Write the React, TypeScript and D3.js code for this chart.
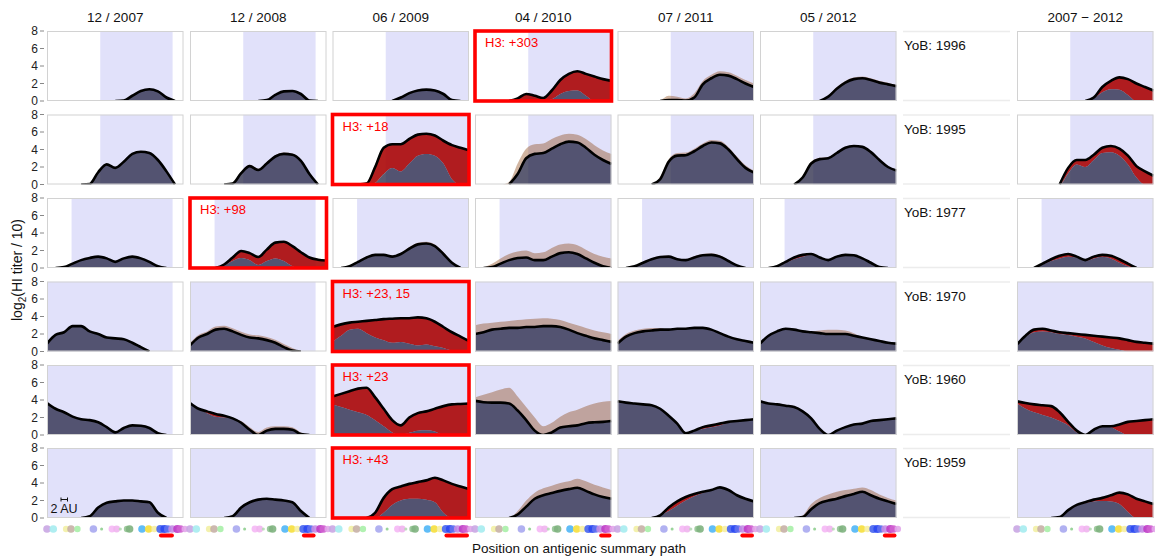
import * as d3 from "d3";

// column headers and row labels
const dateLabels = ["12 / 2007", "12 / 2008", "06 / 2009", "04 / 2010", "07 / 2011", "05 / 2012", "", "2007 − 2012"];
const birthYears = [1996, 1995, 1977, 1970, 1960, 1959];
const yTicks = [0, 2, 4, 6, 8];

// sample positions along the antigenic summary path (fraction of path)
const samplePos = [0, 0.0625, 0.125, 0.1875, 0.25, 0.3125, 0.375, 0.4375, 0.5, 0.5625, 0.625, 0.6875, 0.75, 0.8125, 0.875, 0.9375, 1];

// black line = titer, dark fill up to "pre" (null -> same as titer), brown band up to "upper"
const titer1996 = [
  [0, 0, 0, 0, 0, 0, 0, 0, 0, 0.05, 0.6, 1.15, 1.35, 1.1, 0.4, 0, 0],
  [0, 0, 0, 0, 0, 0, 0, 0, 0, 0.1, 0.7, 1.1, 1.15, 0.8, 0.05, 0, 0],
  [0, 0, 0, 0, 0, 0, 0, 0, 0.4, 0.9, 1.2, 1.3, 1.2, 0.8, 0.1, 0, 0],
  [0, 0, 0, 0, 0, 0.3, 0.8, 0.6, 0.35, 1.2, 2.4, 3.1, 3.4, 3.1, 2.8, 2.5, 2.3],
  [0, 0, 0, 0, 0, 0, 0.1, 0.1, 0.05, 0.4, 1.9, 2.6, 3.0, 2.9, 2.5, 2.0, 1.6],
  [0, 0, 0, 0, 0, 0, 0, 0, 0.5, 1.4, 2.1, 2.5, 2.6, 2.4, 2.1, 1.9, 1.7],
  [0, 0, 0, 0, 0, 0, 0, 0, 0, 0.4, 1.6, 2.3, 2.7, 2.5, 2.0, 1.6, 1.2],
];
const pre1996 = [
  null, null, null,
  [0, 0, 0, 0, 0, 0, 0, 0, 0, 0.2, 0.8, 1.15, 1.2, 0.6, 0, 0, 0],
  null, null,
  [0, 0, 0, 0, 0, 0, 0, 0, 0, 0.3, 1.0, 1.35, 1.3, 0.7, 0, 0, 0],
];
const upper1996 = [
  null, null, null, null,
  [0, 0, 0, 0, 0, 0.1, 0.6, 0.5, 0.3, 0.9, 2.3, 3.0, 3.4, 3.3, 2.9, 2.4, 2.0],
  [0, 0, 0, 0, 0, 0, 0, 0, 0.6, 1.6, 2.3, 2.7, 2.8, 2.6, 2.3, 2.1, 1.8],
  null,
];

const titer1995 = [
  [0, 0, 0, 0, 0, 0.05, 1.4, 2.3, 1.9, 2.6, 3.5, 3.75, 3.6, 2.8, 1.5, 0, 0],
  [0, 0, 0, 0, 0, 0.1, 1.3, 2.1, 1.65, 2.4, 3.2, 3.5, 3.4, 2.7, 1.2, 0, 0],
  [0, 0, 0, 0, 0.1, 2.0, 4.2, 4.6, 4.6, 5.2, 5.7, 5.8, 5.6, 5.0, 4.5, 4.2, 3.9],
  [0, 0, 0, 0, 0, 1.2, 3.0, 3.5, 3.6, 4.1, 4.6, 4.9, 4.8, 4.2, 3.4, 2.8, 2.35],
  [0, 0, 0, 0, 0, 0.6, 2.6, 3.3, 3.35, 3.8, 4.4, 4.8, 4.7, 4.0, 2.9, 1.9, 1.35],
  [0, 0, 0, 0, 0, 0.8, 2.4, 2.9, 3.0, 3.6, 4.2, 4.4, 4.3, 3.7, 2.8, 2.0, 1.6],
  [0, 0, 0, 0, 0, 0, 1.9, 2.8, 2.8, 3.4, 4.2, 4.4, 4.1, 3.3, 2.1, 1.5, 1.0],
];
const pre1995 = [
  null, null,
  [0, 0, 0, 0, 0, 0.2, 1.2, 1.9, 1.5, 2.4, 3.3, 3.5, 3.3, 2.4, 0.6, 0, 0],
  null, null, null,
  [0, 0, 0, 0, 0, 0, 1.3, 2.3, 2.0, 2.8, 3.6, 3.7, 3.3, 2.3, 0.8, 0, 0],
];
const upper1995 = [
  null,
  [0, 0, 0, 0, 0, 0.2, 1.45, 2.25, 1.8, 2.55, 3.35, 3.65, 3.55, 2.85, 1.3, 0, 0],
  [0, 0, 0, 0, 0.3, 2.3, 4.3, 4.6, 4.6, 5.2, 5.7, 5.8, 5.6, 5.0, 4.5, 4.2, 3.9],
  [0, 0, 0, 0, 0.3, 2.4, 4.1, 4.6, 4.7, 5.2, 5.6, 5.8, 5.7, 5.2, 4.5, 3.9, 3.5],
  [0, 0, 0, 0, 0, 0.9, 2.9, 3.6, 3.65, 4.1, 4.7, 5.1, 5.0, 4.3, 3.2, 2.2, 1.6],
  [0, 0, 0, 0, 0, 1.0, 2.6, 3.05, 3.15, 3.7, 4.3, 4.5, 4.4, 3.8, 2.9, 2.1, 1.7],
  null,
];

const titer1977 = [
  [0, 0, 0.1, 0.5, 0.9, 1.15, 1.3, 1.1, 0.7, 1.1, 1.3, 1.1, 0.7, 0.2, 0, 0, 0],
  [0, 0, 0, 0, 0.4, 1.2, 1.95, 1.7, 1.25, 2.1, 2.9, 3.0, 2.5, 1.8, 1.2, 0.95, 0.85],
  [0, 0, 0.2, 0.7, 1.2, 1.5, 1.5, 1.3, 1.6, 2.2, 2.7, 2.8, 2.5, 1.6, 0.6, 0, 0],
  [0, 0, 0.1, 0.5, 0.9, 1.15, 1.2, 0.9, 0.9, 1.3, 1.7, 1.8, 1.6, 1.1, 0.6, 0.2, 0],
  [0, 0, 0.2, 0.6, 1.0, 1.25, 1.3, 1.0, 0.9, 1.2, 1.45, 1.5, 1.3, 0.8, 0.3, 0, 0],
  [0, 0, 0.2, 0.7, 1.2, 1.5, 1.6, 1.2, 0.9, 1.3, 1.5, 1.45, 1.1, 0.6, 0.1, 0, 0],
  [0, 0, 0, 0.5, 1.0, 1.4, 1.6, 1.3, 0.9, 1.3, 1.5, 1.4, 1.0, 0.5, 0, 0, 0],
];
const pre1977 = [
  null,
  [0, 0, 0, 0, 0.3, 0.8, 1.15, 0.9, 0.35, 0.8, 1.1, 0.8, 0.2, 0, 0, 0, 0],
  null, null, null,
  [0, 0, 0.2, 0.6, 1.0, 1.3, 1.5, 1.2, 0.9, 1.3, 1.5, 1.45, 1.1, 0.6, 0.1, 0, 0],
  [0, 0, 0, 0.4, 0.8, 1.1, 1.3, 1.2, 0.8, 1.1, 1.3, 1.1, 0.6, 0.2, 0, 0, 0],
];
const upper1977 = [
  null, null,
  [0, 0, 0.2, 0.7, 1.2, 1.5, 1.6, 1.4, 1.7, 2.4, 2.9, 3.0, 2.7, 1.8, 0.7, 0, 0],
  [0, 0.1, 0.5, 1.1, 1.6, 1.9, 2.0, 1.7, 1.8, 2.3, 2.7, 2.8, 2.6, 2.1, 1.6, 1.3, 1.1],
  [0, 0, 0.2, 0.7, 1.1, 1.35, 1.4, 1.1, 1.0, 1.35, 1.6, 1.65, 1.45, 0.9, 0.35, 0, 0],
  null, null,
];

const titer1970 = [
  [0.9, 1.9, 2.2, 2.9, 2.9, 2.3, 2.0, 1.6, 1.5, 1.4, 1.0, 0.5, 0, 0, 0, 0, 0],
  [0.7, 1.6, 2.0, 2.5, 2.6, 2.3, 1.9, 1.6, 1.5, 1.3, 1.0, 0.5, 0.1, 0, 0, 0, 0],
  [2.8, 3.1, 3.3, 3.4, 3.5, 3.6, 3.7, 3.75, 3.8, 3.8, 3.9, 3.8, 3.4, 2.8, 2.2, 1.7, 1.2],
  [2.0, 2.2, 2.5, 2.6, 2.7, 2.7, 2.8, 2.8, 2.9, 2.9, 2.8, 2.5, 2.1, 1.8, 1.5, 1.3, 1.1],
  [0.9, 1.7, 2.1, 2.3, 2.4, 2.5, 2.5, 2.6, 2.6, 2.7, 2.7, 2.5, 2.1, 1.7, 1.4, 1.2, 1.0],
  [0.9, 1.8, 2.3, 2.6, 2.5, 2.3, 2.2, 2.1, 2.0, 2.0, 2.0, 1.8, 1.6, 1.4, 1.2, 1.0, 0.9],
  [0.8, 1.8, 2.5, 2.6, 2.4, 2.2, 2.1, 2.0, 1.9, 1.8, 1.7, 1.6, 1.5, 1.3, 1.1, 1.0, 0.9],
];
const pre1970 = [
  null, null,
  [1.1, 1.8, 2.5, 2.6, 2.1, 1.6, 1.3, 1.0, 1.1, 0.9, 0.7, 0.8, 0.6, 0.4, 0.1, 0, 0],
  null, null, null,
  [0.8, 1.7, 2.2, 2.3, 2.2, 2.0, 1.9, 1.7, 1.5, 1.1, 0.7, 0.4, 0.2, 0, 0, 0, 0],
];
const upper1970 = [
  null,
  [1.0, 1.9, 2.3, 2.85, 2.95, 2.65, 2.25, 1.95, 1.85, 1.65, 1.35, 0.85, 0.4, 0, 0, 0, 0],
  null,
  [3.0, 3.2, 3.3, 3.4, 3.5, 3.6, 3.7, 3.75, 3.8, 3.75, 3.6, 3.3, 3.0, 2.7, 2.4, 2.2, 2.0],
  [1.2, 2.0, 2.4, 2.6, 2.7, 2.7, 2.5, 2.6, 2.6, 2.7, 2.7, 2.5, 2.1, 1.7, 1.4, 1.2, 1.0],
  [0.9, 1.8, 2.3, 2.6, 2.5, 2.3, 2.3, 2.4, 2.5, 2.5, 2.4, 2.1, 1.6, 1.4, 1.2, 1.0, 0.9],
  null,
];

const titer1960 = [
  [3.65, 3.0, 2.6, 2.1, 1.8, 1.7, 1.45, 0.9, 0.3, 0.8, 1.1, 1.05, 0.8, 0.2, 0, 0, 0],
  [3.65, 3.0, 2.7, 2.4, 2.2, 1.9, 1.4, 0.6, 0, 0.5, 0.7, 0.7, 0.6, 0.1, 0, 0, 0],
  [4.4, 4.7, 5.0, 5.3, 5.4, 4.3, 3.0, 1.7, 1.1, 2.0, 2.5, 2.7, 3.0, 3.3, 3.5, 3.55, 3.6],
  [3.9, 3.75, 3.7, 3.7, 3.6, 2.8, 1.7, 0.5, 0, 0.3, 0.85, 1.0, 1.1, 1.35, 1.45, 1.5, 1.6],
  [3.85, 3.7, 3.6, 3.5, 3.4, 3.0, 2.2, 1.3, 0.2, 0.5, 0.9, 1.1, 1.3, 1.5, 1.6, 1.7, 1.8],
  [3.85, 3.6, 3.5, 3.35, 3.2, 2.7, 1.9, 0.7, 0, 0.5, 0.9, 1.2, 1.3, 1.6, 1.7, 1.8, 1.9],
  [3.85, 3.65, 3.5, 3.4, 3.3, 2.6, 1.5, 0.5, 0, 0.6, 1.0, 1.0, 1.2, 1.5, 1.6, 1.7, 1.8],
];
const pre1960 = [
  null,
  [3.65, 3.0, 2.5, 2.1, 2.0, 1.9, 1.4, 0.6, 0, 0.5, 0.7, 0.7, 0.6, 0.1, 0, 0, 0],
  [3.5, 3.2, 2.9, 2.6, 2.3, 1.7, 1.0, 0.3, 0, 0.25, 0.5, 0.55, 0.4, 0, 0, 0, 0],
  null,
  [3.85, 3.7, 3.6, 3.5, 3.4, 3.0, 2.2, 1.3, 0.2, 0.5, 0.7, 0.9, 1.1, 1.4, 1.6, 1.7, 1.8],
  null,
  [3.6, 3.0, 2.6, 2.3, 2.0, 1.6, 1.1, 0.3, 0, 0.6, 1.0, 0.9, 0.4, 0, 0, 0, 0],
];
const upper1960 = [
  null,
  [3.65, 3.0, 2.7, 2.4, 2.2, 1.9, 1.6, 0.9, 0.35, 0.85, 1.0, 1.0, 0.9, 0.3, 0, 0, 0],
  null,
  [4.3, 4.6, 4.9, 5.2, 5.4, 4.4, 3.2, 2.0, 1.0, 1.4, 2.1, 2.6, 2.9, 3.3, 3.6, 3.8, 3.9],
  null,
  [3.85, 3.6, 3.5, 3.45, 3.3, 2.8, 1.9, 0.7, 0, 0.5, 0.9, 1.2, 1.3, 1.6, 1.7, 1.8, 1.9],
  null,
];

const titer1959 = [
  [0, 0, 0, 0, 0, 0.2, 1.2, 1.75, 1.9, 2.0, 2.0, 1.9, 1.8, 0.6, 0, 0, 0],
  [0, 0, 0, 0, 0, 0.2, 1.2, 1.8, 2.1, 2.2, 2.1, 2.0, 1.8, 0.8, 0, 0, 0],
  [0, 0, 0, 0, 0, 0.6, 2.3, 3.3, 3.6, 3.9, 4.1, 4.3, 4.6, 4.3, 3.9, 3.6, 3.3],
  [0, 0, 0, 0, 0, 0.4, 1.3, 2.2, 2.6, 2.85, 3.1, 3.3, 3.45, 3.1, 2.7, 2.4, 2.2],
  [0, 0, 0, 0, 0, 0.3, 1.2, 1.9, 2.4, 2.75, 3.0, 3.2, 3.5, 3.2, 2.6, 2.2, 1.9],
  [0, 0, 0, 0, 0, 0.1, 1.0, 1.7, 2.0, 2.2, 2.5, 2.75, 3.0, 2.6, 2.2, 1.9, 1.6],
  [0, 0, 0, 0, 0, 0.1, 0.9, 1.5, 1.8, 2.1, 2.3, 2.6, 2.9, 2.7, 2.2, 1.9, 1.6],
];
const pre1959 = [
  null, null,
  [0, 0, 0, 0, 0, 0, 0.6, 1.5, 2.0, 2.2, 2.2, 2.1, 1.8, 0.6, 0, 0, 0],
  null,
  [0, 0, 0, 0, 0, 0.3, 0.8, 1.4, 2.0, 2.5, 2.85, 3.2, 3.5, 3.2, 2.6, 2.2, 1.9],
  null,
  [0, 0, 0, 0, 0, 0.1, 0.8, 1.4, 1.7, 1.9, 1.95, 1.9, 1.6, 0.7, 0, 0, 0],
];
const upper1959 = [
  null, null, null,
  [0, 0, 0, 0, 0, 0.8, 2.0, 2.9, 3.4, 3.7, 4.0, 4.2, 4.5, 4.2, 3.8, 3.5, 3.2],
  null,
  [0, 0, 0, 0, 0, 0.3, 1.6, 2.3, 2.7, 3.0, 3.2, 3.35, 3.5, 3.2, 2.7, 2.3, 2.0],
  null,
];

// exposure window (lavender) along the path
const bandStart = [0.39, 0.39, 0.18, 0, 0, 0];
const bandEnd = [0.92, 0.92, 1, 1, 1, 1, 1];

// vaccine strain position under each column
const vaccineSpan = [[0.82, 0.93], [0.82, 0.92], [0.82, 1.0], [0.91, 1.0], [0.9, 1.0], [0.9, 1.0], null];

// highlighted panels (row -> data column) with their labels
const boxCol = [3, 2, 1, 2, 2, 2];
const boxText = ["H3: +303", "H3: +18", "H3: +98", "H3: +23, 15", "H3: +23", "H3: +43"];

// antigenic summary path clusters
const pathDotPos = [0, 0.046, 0.14, 0.176, 0.223, 0.34, 0.4, 0.476, 0.51, 0.537, 0.586, 0.605, 0.696, 0.745, 0.787, 0.83, 0.86, 0.885, 0.917, 0.954, 0.978, 1.01];
const pathDotColors = ["#c9a6e3", "#a6ecf0", "#f2efa4", "#c6b0a6", "#a8f0a8", "#a8a8ef", "#8fcf8f", "#f5b8f5", "#f0b4ee", "#b4dcb4", "#94c494", "#7fb27f", "#4fb6f6", "#f6df3c", "#f6eea0", "#4664f0", "#2b48f2", "#6070ee", "#c48ce6", "#bf3cc6", "#cf5fd0", "#e2a6ea"];
const pathDotSizes = [3.8, 3.8, 3.2, 3.8, 3.2, 3.8, 1.5, 3.4, 3.4, 1.6, 3.2, 3.8, 3.8, 3.8, 3.2, 4, 4, 3.8, 3.8, 4, 3.8, 3.2];

const rows = [
  { line: titer1996, pre: pre1996, hi: upper1996 },
  { line: titer1995, pre: pre1995, hi: upper1995 },
  { line: titer1977, pre: pre1977, hi: upper1977 },
  { line: titer1970, pre: pre1970, hi: upper1970 },
  { line: titer1960, pre: pre1960, hi: upper1960 },
  { line: titer1959, pre: pre1959, hi: upper1959 },
];

const W = 1155;
const H = 557;
const colLeft = [47, 190, 332.5, 475, 617.5, 760, 903, 1017];
const panelW = 136.5;
const panelH = 70;
const rowTop = [31, 114.5, 198, 281.5, 365, 448];
const font = "'Liberation Sans', Arial, sans-serif";

const LAV = "#e1e1fa";
const DARK = "#1c1c3c";
const RED = "#a80000";
const BROWN = "#8b4513";

function Panel({ r, c }: { r: number; c: number }) {
  const sc = c < 6 ? c : 7;
  const x0 = colLeft[sc];
  const y0 = rowTop[r];
  const x = d3.scaleLinear().domain([0, 1]).range([x0, x0 + panelW]);
  const y = d3.scaleLinear().domain([0, 8]).range([y0 + panelH, y0]);
  const line = rows[r].line[c];
  const pre = rows[r].pre[c] || line;
  const hi = rows[r].hi[c] || line;
  const idx = d3.range(samplePos.length);
  const px = (i: number) => x(samplePos[i]);

  const between = (lo: (i: number) => number, up: (i: number) => number) =>
    d3.area<number>().x(px).y0((i) => y(lo(i))).y1((i) => y(up(i))).curve(d3.curveMonotoneX)(idx) || "";

  const brown = between((i) => line[i], (i) => Math.max(hi[i], line[i]));
  const red = between((i) => pre[i], (i) => line[i]);
  const dark = between(() => 0, (i) => pre[i]);
  const black =
    d3
      .line<number>()
      .defined((i) => line[i] > 0 || (line[i - 1] ?? 0) > 0 || (line[i + 1] ?? 0) > 0)
      .x(px)
      .y((i) => y(line[i]))
      .curve(d3.curveMonotoneX)(idx) || "";

  const boxed = boxCol[r] === c;
  const clipId = `clip-${r}-${c}`;
  return (
    <g>
      <clipPath id={clipId}>
        <rect x={x0} y={y0} width={panelW} height={panelH} />
      </clipPath>
      <rect x={x0} y={y0} width={panelW} height={panelH} fill="#fff" />
      <g clipPath={`url(#${clipId})`}>
        <rect
          x={x(bandStart[r])}
          y={y0}
          width={x(bandEnd[c]) - x(bandStart[r])}
          height={panelH}
          fill={LAV}
        />
        <path d={brown} fill={BROWN} fillOpacity={0.4} />
        <path d={red} fill={RED} fillOpacity={0.88} />
        <path d={dark} fill={DARK} fillOpacity={0.72} />
        <path d={black} fill="none" stroke="#000" strokeWidth={2.6} strokeLinejoin="round" />
      </g>
      {boxed ? (
        <g>
          <rect x={x0} y={y0} width={panelW} height={panelH} fill="none" stroke="#ff0000" strokeWidth={3.6} />
          <text x={x0 + 10} y={y0 + 16} fill="#ff0000" fontSize={13} fontFamily={font}>
            {boxText[r]}
          </text>
        </g>
      ) : (
        <rect x={x0 + 0.5} y={y0 + 0.5} width={panelW - 1} height={panelH - 1} fill="none" stroke="#d2d2d2" strokeWidth={1} />
      )}
    </g>
  );
}

function PathStrip({ c }: { c: number }) {
  const sc = c < 6 ? c : 7;
  const x0 = colLeft[sc];
  const x = d3.scaleLinear().domain([0, 1]).range([x0, x0 + panelW]);
  const span = vaccineSpan[c];
  return (
    <g>
      {pathDotPos.map((p, i) => (
        <circle key={i} cx={x(p)} cy={529} r={pathDotSizes[i]} fill={pathDotColors[i]} fillOpacity={0.9} />
      ))}
      {span && (
        <line
          x1={x(span[0]) + 2}
          x2={x(span[1]) - 2}
          y1={535.5}
          y2={535.5}
          stroke="#ff0000"
          strokeWidth={4}
          strokeLinecap="round"
        />
      )}
    </g>
  );
}

export default function App() {
  const dataCols = [0, 1, 2, 3, 4, 5, 6];
  return (
    <svg
      width={W}
      height={H}
      style={{ position: "absolute", left: 0, top: 0, background: "#fff" }}
      fontFamily={font}
    >
      {dateLabels.map((t, i) =>
        t ? (
          <text key={i} x={colLeft[i] + panelW / 2} y={22} textAnchor="middle" fontSize={13.5} fill="#111">
            {t}
          </text>
        ) : null
      )}

      {rows.map((_, r) => (
        <g key={r}>
          {dataCols.map((c) => (
            <Panel key={c} r={r} c={c} />
          ))}
          {/* YoB cell */}
          <line x1={colLeft[6]} x2={colLeft[6] + 107} y1={rowTop[r] + 0.5} y2={rowTop[r] + 0.5} stroke="#ececec" strokeWidth={1.5} />
          <line x1={colLeft[6]} x2={colLeft[6] + 107} y1={rowTop[r] + panelH - 0.5} y2={rowTop[r] + panelH - 0.5} stroke="#ececec" strokeWidth={1.5} />
          <text x={colLeft[6] + 1} y={rowTop[r] + 19} fontSize={13.5} fill="#111">
            {`YoB: ${birthYears[r]}`}
          </text>
          {/* y axis */}
          {yTicks.map((t) => {
            const y = d3.scaleLinear().domain([0, 8]).range([rowTop[r] + panelH, rowTop[r]]);
            return (
              <g key={t}>
                <line x1={40} x2={44} y1={y(t)} y2={y(t)} stroke="#888" strokeWidth={1} />
                <text x={38} y={y(t) + 4.3} textAnchor="end" fontSize={12} fill="#222">
                  {t}
                </text>
              </g>
            );
          })}
        </g>
      ))}

      {/* scale bar */}
      <g stroke="#111" strokeWidth={1}>
        <line x1={61} x2={67.5} y1={499.5} y2={499.5} />
        <line x1={61} x2={61} y1={497.5} y2={501.5} />
        <line x1={67.5} x2={67.5} y1={497.5} y2={501.5} />
      </g>
      <text x={64} y={513} textAnchor="middle" fontSize={12.5} fill="#111">
        2 AU
      </text>

      {dataCols.map((c) => (
        <PathStrip key={c} c={c} />
      ))}

      <text
        transform="translate(22,270) rotate(-90)"
        textAnchor="middle"
        fontSize={14}
        fill="#111"
      >
        log<tspan fontSize={10} dy={4}>2</tspan>
        <tspan dy={-4}>(HI titer / 10)</tspan>
      </text>
      <text x={579} y={553} textAnchor="middle" fontSize={13.5} fill="#111">
        Position on antigenic summary path
      </text>
    </svg>
  );
}
